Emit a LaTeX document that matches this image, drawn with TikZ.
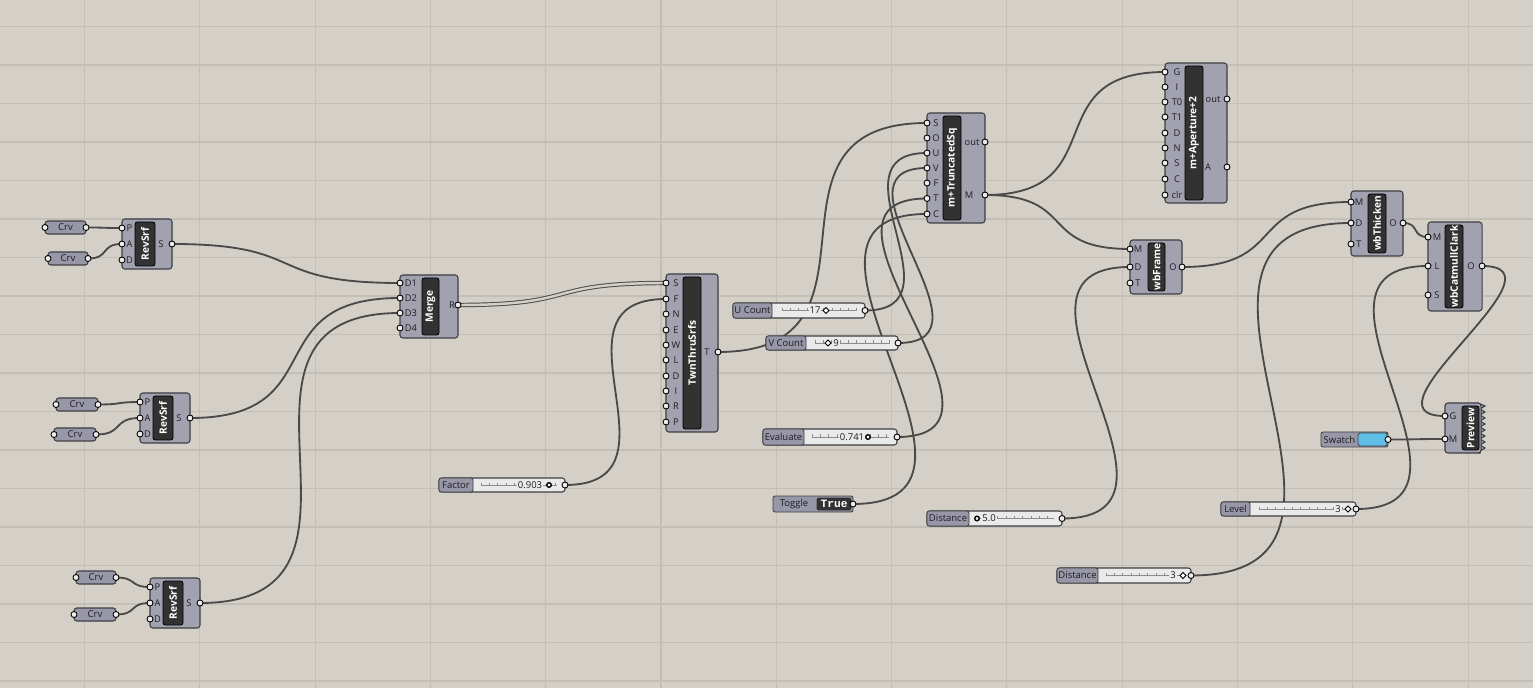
\documentclass[tikz,border=0pt]{standalone}
\usepackage{fontspec}
\setmainfont{Open Sans}
\newfontfamily\togglefont{Liberation Mono}
\usetikzlibrary{fit,calc,shapes.geometric}

\definecolor{canvasbg}{RGB}{212,208,200}
\definecolor{gridline}{RGB}{195,191,183}
\definecolor{compfill}{RGB}{162,161,176}
\definecolor{compedge}{RGB}{62,62,66}
\definecolor{barfill}{RGB}{50,50,50}
\definecolor{labfill}{RGB}{152,151,168}
\definecolor{sliderfill}{RGB}{234,234,234}
\definecolor{wirecol}{RGB}{74,74,74}
\definecolor{portfill}{RGB}{236,236,236}
\definecolor{swatchblue}{RGB}{94,190,230}
\definecolor{textcol}{RGB}{30,30,34}

\pgfdeclarelayer{background}
\pgfdeclarelayer{wires}
\pgfsetlayers{background,wires,main}

\newcommand{\portr}{0.06cm}

\tikzset{
  compbody/.style={draw=compedge, fill=compfill, line width=0.6pt, rounded corners=1.6pt, inner sep=0pt},
  compbar/.style={draw=black, fill=barfill, line width=0.5pt, rounded corners=1.4pt, inner sep=0pt},
  comptitle/.style={rotate=90, text=white, font=\fontsize{5.8}{7}\selectfont\bfseries, inner sep=0pt},
  portlab/.style={text=textcol, font=\fontsize{5.3}{6}\selectfont, inner sep=0pt},
  port/.style={draw=black, fill=portfill, line width=0.5pt},
  parambody/.style={draw=compedge, fill=labfill, line width=0.6pt, rounded corners=1.6pt, inner sep=0pt},
  sliderbody/.style={draw=compedge, fill=sliderfill, line width=0.6pt, rounded corners=1.6pt, inner sep=0pt},
  sliderlab/.style={draw=compedge, fill=labfill, line width=0.5pt, rounded corners=1.2pt, inner sep=0pt},
  lab/.style={text=textcol, font=\fontsize{5.4}{6}\selectfont, inner sep=0pt},
  val/.style={text=textcol, font=\fontsize{5.4}{6}\selectfont, fill=sliderfill, inner sep=0.6pt},
  track/.style={draw=black!45, line width=0.3pt},
  rknob/.style={circle, draw=black, fill=white, line width=0.8pt, minimum size=0.09cm, inner sep=0pt},
  dknob/.style={diamond, draw=black, fill=white, line width=0.5pt, minimum size=0.13cm, inner sep=0pt},
  wire/.style={draw=wirecol, line width=1.05pt,
    to path={let \p1=(\tikztostart), \p2=(\tikztotarget), \n1={0.6*veclen(\x2-\x1,\y2-\y1)} in
      .. controls +(\n1,0pt) and +(-\n1,0pt) .. (\tikztotarget)}},
  listwire/.style={wire, double=canvasbg, double distance=1.4pt, line width=0.55pt},
}

\begin{document}
\begin{tikzpicture}[x=0.02cm, y=-0.02cm]
\useasboundingbox (0,0) rectangle (1533,688);

% canvas and grid
\begin{pgfonlayer}{background}
\fill[canvasbg] (0,0) rectangle (1533,688);
\foreach \gx in {0,...,12}
  \draw[gridline, line width=0.6pt] ({84.5+115.3*\gx},0) -- ({84.5+115.3*\gx},688);
\foreach \gy in {0,...,17}
  \draw[gridline, line width=0.6pt] (0,{26.5+38.5*\gy}) -- (1533,{26.5+38.5*\gy});
\end{pgfonlayer}

% curve params
\foreach \cn/\xa/\xb/\yy in {crv1/45/86/227.5, crv2/48/88/258.5, crv3/56/98/404.5, crv4/54/96/434.5, crv5/76/116/577.5, crv6/74/116/614.5}{
  \node[parambody, fit={(\xa,\yy-6.5) (\xb,\yy+6.5)}] (\cn) {};
  \node[lab] at (\cn) {Crv};
  \coordinate (\cn-o) at (\xb,\yy);
  \draw[port] (\xa,\yy) circle[radius=\portr];
  \draw[port] (\cn-o) circle[radius=\portr];
}

% RevSrf components
\foreach \rn/\xx/\yy in {rev1/122/219, rev2/140/393, rev3/150/578}{
  \node[compbody, fit={(\xx,\yy) (\xx+50,\yy+50)}] (\rn) {};
  \node[compbar, fit={(\xx+13,\yy+3) (\xx+33,\yy+47)}] (\rn-bar) {};
  \node[comptitle] at (\rn-bar) {RevSrf};
  \foreach \pn/\dy in {P/9, A/25, D/41}{
    \coordinate (\rn-\pn) at (\xx,\yy+\dy);
    \draw[port] (\rn-\pn) circle[radius=\portr];
    \node[portlab] at (\xx+7.5,\yy+\dy) {\pn};
  }
  \coordinate (\rn-S) at (\xx+50,\yy+25);
  \draw[port] (\rn-S) circle[radius=\portr];
  \node[portlab] at (\xx+39,\yy+25) {S};
}

% Merge
\node[compbody, fit={(400,275) (458,338)}] (merge) {};
\node[compbar, fit={(422,278) (439,335)}] (merge-bar) {};
\node[comptitle] at (merge-bar) {Merge};
\foreach \pn/\yy in {D1/283, D2/298, D3/313, D4/328}{
  \coordinate (merge-\pn) at (400,\yy);
  \draw[port] (merge-\pn) circle[radius=\portr];
  \node[portlab] at (411,\yy) {\pn};
}
\coordinate (merge-R) at (458,305);
\draw[port] (merge-R) circle[radius=\portr];
\node[portlab] at (452,305) {R};

% TwnThruSrfs
\node[compbody, fit={(666,274) (718,432)}] (twn) {};
\node[compbar, fit={(683,277) (701,429)}] (twn-bar) {};
\node[comptitle] at (twn-bar) {TwnThruSrfs};
\foreach \pn/\yy in {S/283, F/299, N/314, E/330, W/345, L/360, D/376, I/391, R/406, P/422}{
  \coordinate (twn-\pn) at (666,\yy);
  \draw[port] (twn-\pn) circle[radius=\portr];
  \node[portlab] at (676,\yy) {\pn};
}
\coordinate (twn-T) at (718,352);
\draw[port] (twn-T) circle[radius=\portr];
\node[portlab] at (707,352) {T};

% m+TruncatedSq
\node[compbody, fit={(927,113) (985,223)}] (trunc) {};
\node[compbar, fit={(943,116) (961,220)}] (trunc-bar) {};
\node[comptitle] at (trunc-bar) {m+TruncatedSq};
\foreach \pn/\yy in {S/123, O/138, U/153, V/168, F/183, T/198.5, C/214}{
  \coordinate (trunc-\pn) at (927,\yy);
  \draw[port] (trunc-\pn) circle[radius=\portr];
  \node[portlab] at (936,\yy) {\pn};
}
\coordinate (trunc-out) at (985,142);
\coordinate (trunc-M) at (985,195);
\draw[port] (trunc-out) circle[radius=\portr];
\draw[port] (trunc-M) circle[radius=\portr];
\node[portlab] at (972,142) {out};
\node[portlab] at (969,195) {M};

% m+Aperture+2
\node[compbody, fit={(1165,63) (1227,203)}] (aper) {};
\node[compbar, fit={(1185,66) (1203,200)}] (aper-bar) {};
\node[comptitle] at (aper-bar) {m+Aperture+2};
\foreach \pn/\yy in {G/72, I/87, T0/102, T1/117, D/133, N/148, S/163, C/179, clr/195}{
  \coordinate (aper-\pn) at (1165,\yy);
  \draw[port] (aper-\pn) circle[radius=\portr];
  \node[portlab] at (1177,\yy) {\pn};
}
\coordinate (aper-out) at (1227,99);
\coordinate (aper-A) at (1227,167);
\draw[port] (aper-out) circle[radius=\portr];
\draw[port] (aper-A) circle[radius=\portr];
\node[portlab] at (1213,99) {out};
\node[portlab] at (1208,167) {A};

% wbFrame
\node[compbody, fit={(1130,240) (1182,294)}] (frame) {};
\node[compbar, fit={(1148,243) (1165,291)}] (frame-bar) {};
\node[comptitle] at (frame-bar) {wbFrame};
\foreach \pn/\yy in {M/249, D/267, T/283}{
  \coordinate (frame-\pn) at (1130,\yy);
  \draw[port] (frame-\pn) circle[radius=\portr];
  \node[portlab] at (1138,\yy) {\pn};
}
\coordinate (frame-O) at (1182,267);
\draw[port] (frame-O) circle[radius=\portr];
\node[portlab] at (1173,267) {O};

% wbThicken
\node[compbody, fit={(1351,191) (1403,256)}] (thick) {};
\node[compbar, fit={(1368,194) (1386,253)}] (thick-bar) {};
\node[comptitle] at (thick-bar) {wbThicken};
\foreach \pn/\yy in {M/202, D/223, T/244}{
  \coordinate (thick-\pn) at (1351,\yy);
  \draw[port] (thick-\pn) circle[radius=\portr];
  \node[portlab] at (1359,\yy) {\pn};
}
\coordinate (thick-O) at (1403,223);
\draw[port] (thick-O) circle[radius=\portr];
\node[portlab] at (1393,223) {O};

% wbCatmullClark
\node[compbody, fit={(1428,222) (1482,311)}] (catm) {};
\node[compbar, fit={(1445,225) (1463,308)}] (catm-bar) {};
\node[comptitle] at (catm-bar) {wbCatmullClark};
\foreach \pn/\yy in {M/237, L/266, S/295}{
  \coordinate (catm-\pn) at (1428,\yy);
  \draw[port] (catm-\pn) circle[radius=\portr];
  \node[portlab] at (1437,\yy) {\pn};
}
\coordinate (catm-O) at (1482,266);
\draw[port] (catm-O) circle[radius=\portr];
\node[portlab] at (1471,266) {O};

% Preview
\draw[draw=compedge, fill=compfill, line width=0.6pt] (1478,403) \foreach \k in {0,...,7} { -- (1485,{406+6*\k}) -- (1480,{409+6*\k}) } -- (1480,453) -- (1478,453) -- cycle;
\node[compbody, fit={(1445,403) (1481,453)}] (prev) {};
\node[compbar, fit={(1462,406) (1479,450)}] (prev-bar) {};
\node[comptitle] at (prev-bar) {Preview};
\foreach \pn/\yy in {G/416, M/439}{
  \coordinate (prev-\pn) at (1445,\yy);
  \draw[port] (prev-\pn) circle[radius=\portr];
  \node[portlab] at (1453,\yy) {\pn};
}

% Swatch
\node[sliderlab, fit={(1321,432) (1388,447)}] (swatch) {};
\node[draw=compedge, fill=swatchblue, line width=0.4pt, rounded corners=1pt, inner sep=0pt, fit={(1358,433) (1387,446)}] (swatch-col) {};
\node[lab] at (1339.5,439.5) {Swatch};
\coordinate (swatch-o) at (1388,439.5);
\draw[port] (swatch-o) circle[radius=\portr];

% Factor slider
\node[sliderbody, fit={(439,478) (565,492)}] (factor) {};
\node[sliderlab, fit={(439,478) (473,492)}] (factor-lab) {};
\node[lab] at (factor-lab) {Factor};
\draw[track] (481,485) -- (557,485);
\foreach \t in {481,489.3,...,557} \draw[track] (\t,485) -- (\t,482.5);
\node[val] at (530,485) {0.903};
\node[rknob] at (549,485) {};
\coordinate (factor-o) at (565,485);
\draw[port] (factor-o) circle[radius=\portr];

% U Count slider
\node[sliderbody, fit={(733,303) (865,318)}] (ucount) {};
\node[sliderlab, fit={(733,303) (772,318)}] (ucount-lab) {};
\node[lab] at (ucount-lab) {U Count};
\draw[track] (782,310.5) -- (857,310.5);
\foreach \t in {782,790.3,...,857} \draw[track] (\t,310.5) -- (\t,308);
\node[val] at (815,310.5) {17};
\node[dknob] at (826,310.5) {};
\coordinate (ucount-o) at (865,310.5);
\draw[port] (ucount-o) circle[radius=\portr];

% V Count slider
\node[sliderbody, fit={(766,336) (898,350)}] (vcount) {};
\node[sliderlab, fit={(766,336) (806,350)}] (vcount-lab) {};
\node[lab] at (vcount-lab) {V Count};
\draw[track] (815,343) -- (890,343);
\foreach \t in {815,823.3,...,890} \draw[track] (\t,343) -- (\t,340.5);
\node[val] at (836,343) {9};
\node[dknob] at (828,343) {};
\coordinate (vcount-o) at (898,343);
\draw[port] (vcount-o) circle[radius=\portr];

% Evaluate slider
\node[sliderbody, fit={(763,429) (897,445)}] (evaluate) {};
\node[sliderlab, fit={(763,429) (804,445)}] (evaluate-lab) {};
\node[lab] at (evaluate-lab) {Evaluate};
\draw[track] (812,437) -- (889,437);
\foreach \t in {812,820.3,...,889} \draw[track] (\t,437) -- (\t,434.5);
\node[val] at (852,437) {0.741};
\node[rknob] at (868,437) {};
\coordinate (evaluate-o) at (897,437);
\draw[port] (evaluate-o) circle[radius=\portr];

% Toggle
\node[sliderlab, fit={(773,496) (853,512)}] (toggle) {};
\node[draw=black!80, fill=barfill, line width=0.4pt, rounded corners=0.8pt, inner sep=0pt, fit={(817,498) (851,510)}] (toggle-val) {};
\node[lab] at (794,504) {Toggle};
\node[text=white, font=\fontsize{6.4}{7}\togglefont\bfseries, inner sep=0pt] at (toggle-val) {True};
\coordinate (toggle-o) at (853,504);
\draw[port] (toggle-o) circle[radius=\portr];

% Distance slider (frame)
\node[sliderbody, fit={(927,511) (1062,526)}] (dist1) {};
\node[sliderlab, fit={(927,511) (969,526)}] (dist1-lab) {};
\node[lab] at (dist1-lab) {Distance};
\draw[track] (977,518.5) -- (1054,518.5);
\foreach \t in {981,989.3,...,1054} \draw[track] (\t,518.5) -- (\t,516);
\node[val] at (989,518.5) {5.0};
\node[rknob] at (977,518.5) {};
\coordinate (dist1-o) at (1062,518.5);
\draw[port] (dist1-o) circle[radius=\portr];

% Distance slider (thicken)
\node[sliderbody, fit={(1057,568) (1191,583)}] (dist2) {};
\node[sliderlab, fit={(1057,568) (1098,583)}] (dist2-lab) {};
\node[lab] at (dist2-lab) {Distance};
\draw[track] (1106,575.5) -- (1183,575.5);
\foreach \t in {1106,1114.3,...,1178} \draw[track] (\t,575.5) -- (\t,573);
\node[val] at (1173,575.5) {3};
\node[dknob] at (1183,575.5) {};
\coordinate (dist2-o) at (1191,575.5);
\draw[port] (dist2-o) circle[radius=\portr];

% Level slider
\node[sliderbody, fit={(1221,502) (1356,516)}] (level) {};
\node[sliderlab, fit={(1221,502) (1250,516)}] (level-lab) {};
\node[lab] at (level-lab) {Level};
\draw[track] (1259,509) -- (1348,509);
\foreach \t in {1259,1267.3,...,1343} \draw[track] (\t,509) -- (\t,506.5);
\node[val] at (1338,509) {3};
\node[dknob] at (1348,509) {};
\coordinate (level-o) at (1356,509);
\draw[port] (level-o) circle[radius=\portr];

% wires
\begin{pgfonlayer}{wires}
\draw[wire] (crv1-o) to (rev1-P);
\draw[wire] (crv2-o) to (rev1-A);
\draw[wire] (crv3-o) to (rev2-P);
\draw[wire] (crv4-o) to (rev2-A);
\draw[wire] (crv5-o) to (rev3-P);
\draw[wire] (crv6-o) to (rev3-A);
\draw[wire] (rev1-S) to (merge-D1);
\draw[wire] (rev2-S) to (merge-D2);
\draw[wire] (rev3-S) to (merge-D3);
\draw[listwire] (merge-R) to (twn-S);
\draw[wire] (factor-o) to (twn-F);
\draw[wire] (twn-T) to (trunc-S);
\draw[wire] (ucount-o) to (trunc-U);
\draw[wire] (vcount-o) to (trunc-V);
\draw[wire] (evaluate-o) to (trunc-T);
\draw[wire] (toggle-o) to (trunc-C);
\draw[wire] (trunc-M) to (aper-G);
\draw[wire] (trunc-M) to (frame-M);
\draw[wire] (dist1-o) to (frame-D);
\draw[wire] (frame-O) to (thick-M);
\draw[wire] (dist2-o) to (thick-D);
\draw[wire] (thick-O) to (catm-M);
\draw[wire] (level-o) to (catm-L);
\draw[wire] (catm-O) to (prev-G);
\draw[wire] (swatch-o) to (prev-M);
\end{pgfonlayer}
\end{tikzpicture}
\end{document}
